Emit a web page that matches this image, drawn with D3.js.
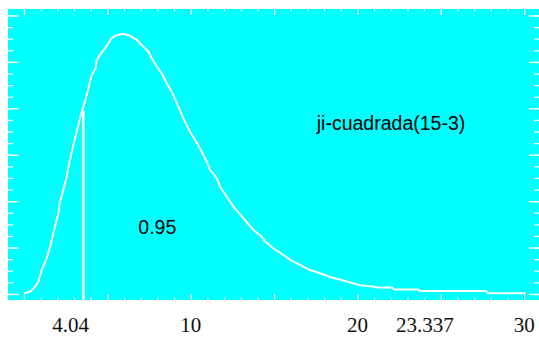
<!DOCTYPE html>
<html>
<head>
<meta charset="utf-8">
<script src="https://cdn.jsdelivr.net/npm/d3@7"></script>
<style>
  body { margin: 0; background: #fff; }
  .label { font-family: "Liberation Sans", Arial, sans-serif; font-size: 19.5px; fill: #000; }
  .xLab { font-family: "Liberation Serif", "Times New Roman", serif; font-size: 21px; fill: #111; }
</style>
</head>
<body>
<div id="chart"></div>
<script>
// curve (x value, density)
var curveX = [0, 0.36, 0.66, 0.86, 1.06, 1.36, 1.56, 1.76, 2.06, 2.16, 2.36, 2.56, 2.76, 2.96, 3.26, 3.46,
  3.66, 3.86, 4.06, 4.30, 4.36, 4.56, 4.86, 5.26, 5.46, 5.76, 6.06, 6.36, 6.76, 7.06, 7.46, 7.66,
  7.96, 8.26, 8.56, 8.86, 9.26, 9.56, 9.96, 10.26, 10.66, 10.96, 11.16, 11.56, 11.76, 12.56, 13.16,
  13.76, 14.26, 14.46, 14.96, 15.56, 15.96, 16.56, 17.16, 17.76, 18.36, 18.76, 19.26, 19.68, 20.16,
  20.94, 21.12, 22.08, 22.20, 23.64, 23.76, 27.71, 27.83, 30.1];
var curveY = [0.0003, 0.0010, 0.0031, 0.0053, 0.0103, 0.0154, 0.0204, 0.0262, 0.0348, 0.0398, 0.0448,
  0.0506, 0.0578, 0.0642, 0.0728, 0.0786, 0.0829, 0.0887, 0.0944, 0.0973, 0.1009, 0.1030, 0.1059,
  0.1102, 0.1112, 0.1119, 0.1119, 0.1112, 0.1095, 0.1073, 0.1044, 0.1016, 0.0980, 0.0951, 0.0908,
  0.0872, 0.0807, 0.0757, 0.0698, 0.0664, 0.0613, 0.0570, 0.0534, 0.0499, 0.0462, 0.0376, 0.0326,
  0.0276, 0.0247, 0.0226, 0.0197, 0.0168, 0.0147, 0.0125, 0.0103, 0.0089, 0.0072, 0.0066, 0.0056,
  0.0047, 0.0037, 0.0032, 0.0028, 0.0028, 0.0019, 0.0019, 0.0013, 0.0013, 0.0003, 0.0003];

// critical value line (as it sits on the picture) and its height
var cutX = 3.56;
var cutTop = 0.0789;

// tick labels under the x axis and where they sit
var xLabelText = ["4.04", "10", "20", "23.337", "30"];
var xLabelAt = [2.8, 10, 20, 24.05, 30];

var svgWidth = 539;
var svgHeight = 337;

var plot = { left: 8, right: 540, top: 9, bottom: 300 };

var svg = d3
  .select("#chart")
  .append("svg")
  .attr("width", svgWidth)
  .attr("height", svgHeight);

var xScale = d3.scaleLinear().domain([-0.96, 30.95]).range([plot.left, plot.right]);
var yScale = d3.scaleLinear().domain([-0.0026, 0.1228]).range([plot.bottom, plot.top]);

// cyan plot area
svg
  .append("rect")
  .attr("x", plot.left)
  .attr("y", plot.top)
  .attr("width", plot.right - plot.left)
  .attr("height", plot.bottom - plot.top)
  .attr("fill", "#00ffff");

// ticks on all four sides, pointing inwards
var xMajor = d3.range(0, 31, 5);
var xMinor = d3.range(0, 31, 1).filter(function(d) { return d % 5 !== 0; });
var yMajor = d3.range(0, 0.1201, 0.02);
var yMinor = d3.range(0, 0.1201, 0.005);

function addAxis(axis, tx, ty) {
  var g = svg
    .append("g")
    .attr("transform", "translate(" + tx + "," + ty + ")")
    .call(axis);
  g.select(".domain").remove();
  g.selectAll("line").attr("stroke", "#fff").attr("stroke-width", 1.3);
  g.selectAll("text").remove();
}

addAxis(d3.axisBottom(xScale).tickValues(xMajor).tickSize(-6), 0, plot.bottom);
addAxis(d3.axisBottom(xScale).tickValues(xMinor).tickSize(-2.5), 0, plot.bottom);
addAxis(d3.axisTop(xScale).tickValues(xMajor).tickSize(-6), 0, plot.top);
addAxis(d3.axisTop(xScale).tickValues(xMinor).tickSize(-2.5), 0, plot.top);
addAxis(d3.axisLeft(yScale).tickValues(yMajor).tickSize(-11), plot.left, 0);
addAxis(d3.axisLeft(yScale).tickValues(yMinor).tickSize(-5), plot.left, 0);
addAxis(d3.axisRight(yScale).tickValues(yMajor).tickSize(-10), 539, 0);
addAxis(d3.axisRight(yScale).tickValues(yMinor).tickSize(-5), 539, 0);

// the density curve
var curveData = curveX.map(function(d, i) { return [d, curveY[i]]; });
var line = d3
  .line()
  .x(function(d) { return xScale(d[0]); })
  .y(function(d) { return yScale(d[1]); });

svg
  .append("path")
  .datum(curveData)
  .attr("d", line)
  .attr("fill", "none")
  .attr("stroke", "#fff")
  .attr("stroke-width", 2);

// vertical line at the cut
svg
  .append("line")
  .attr("x1", xScale(cutX))
  .attr("x2", xScale(cutX))
  .attr("y1", plot.bottom)
  .attr("y2", yScale(cutTop))
  .attr("stroke", "#fff")
  .attr("stroke-width", 2.5);

// annotations
svg
  .append("text")
  .attr("class", "label")
  .attr("x", xScale(6.86))
  .attr("y", yScale(0.0259))
  .text("0.95");

svg
  .append("text")
  .attr("class", "label")
  .attr("x", xScale(17.56))
  .attr("y", yScale(0.0707))
  .text("ji-cuadrada(15-3)");

// x labels
svg
  .selectAll(".xLab")
  .data(xLabelText)
  .enter()
  .append("text")
  .attr("class", "xLab")
  .attr("x", function(d, i) { return xScale(xLabelAt[i]); })
  .attr("y", 332)
  .attr("text-anchor", "middle")
  .text(function(d) { return d; });
</script>
</body>
</html>
